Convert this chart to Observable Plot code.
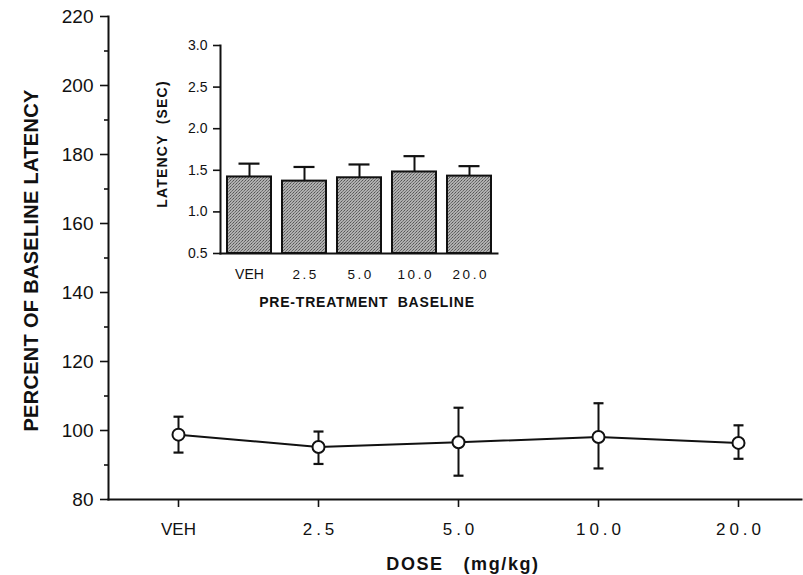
<!DOCTYPE html>
<html>
<head>
<meta charset="utf-8">
<script src="https://cdn.jsdelivr.net/npm/d3@7"></script>
<script src="https://cdn.jsdelivr.net/npm/@observablehq/plot@0.6"></script>
<style>
  html, body { margin: 0; padding: 0; background: #fff; }
  #wrap { position: relative; width: 803px; height: 575px; font-family: "Liberation Sans", Arial, sans-serif; }
  #wrap svg { position: absolute; overflow: visible; }
  #wrap svg text { white-space: pre; fill: #111; }
</style>
</head>
<body>
<div id="wrap"></div>
<script>
// ---- data ----
const doses = ["VEH", "2.5", "5.0", "10.0", "20.0"];
const pctMean = [98.8, 95.2, 96.6, 98.1, 96.4];
const pctHigh = [104.0, 99.7, 106.6, 107.9, 101.5];
const pctLow = [93.6, 90.3, 86.9, 89.0, 91.8];
const latMean = [1.42, 1.37, 1.41, 1.48, 1.43];
const latHigh = [1.58, 1.54, 1.57, 1.67, 1.55];
const yTicks = [80, 100, 120, 140, 160, 180, 200, 220];
const yMinorTicks = [90, 110, 130, 150, 170, 190, 210];
const insetTicks = [0.5, 1.0, 1.5, 2.0, 2.5, 3.0];
const yTitle = "PERCENT OF BASELINE LATENCY";
const xTitle = "DOSE   (mg/kg)";
const insetYTitle = "LATENCY  (SEC)";
const insetXTitle = "PRE-TREATMENT  BASELINE";

const main = doses.map((d, i) => ({dose: d, mean: pctMean[i], hi: pctHigh[i], lo: pctLow[i]}));
const inset = doses.map((d, i) => ({dose: d, mean: latMean[i], hi: latHigh[i]}));
const insetBase = insetTicks[0];

const capSymbol = {
  draw(ctx, size) {
    const w = Math.sqrt(size / Math.PI);
    ctx.moveTo(-w, 0);
    ctx.lineTo(w, 0);
  }
};

const font = "Liberation Sans, Arial, sans-serif";

const mainPlot = Plot.plot({
  width: 803,
  height: 575,
  marginLeft: 108,
  marginRight: 2,
  marginTop: 16,
  marginBottom: 76,
  style: {fontFamily: font, background: "transparent", color: "#111"},
  x: {type: "point", domain: doses, range: [177, 739], padding: 0, axis: null, label: null},
  y: {domain: [80, 220], axis: null, label: null},
  marks: [
    Plot.axisY(yTicks, {tickSize: 8, tickPadding: 7, fontSize: 19, strokeWidth: 1.6, label: null}),
    Plot.axisY(yMinorTicks, {tickSize: 4, tickFormat: () => "", strokeWidth: 1.6, label: null}),
    Plot.axisX(doses, {tickSize: 8, tickFormat: () => "", strokeWidth: 1.6, label: null}),
    Plot.frame({anchor: "left", strokeWidth: 2}),
    Plot.frame({anchor: "bottom", strokeWidth: 2}),
    Plot.text(doses.filter(d => d === "VEH"), {x: d => d, frameAnchor: "bottom", lineAnchor: "middle", dy: 30, fontSize: 17}),
    Plot.text(doses.filter(d => d !== "VEH"), {x: d => d, frameAnchor: "bottom", lineAnchor: "middle", dy: 30, dx: 2, fontSize: 17}),
    Plot.text([xTitle], {frameAnchor: "bottom", lineAnchor: "middle", textAnchor: "middle", dy: 65, dx: 8, fontSize: 18, fontWeight: "bold"}),
    Plot.text([yTitle], {frameAnchor: "left", textAnchor: "middle", lineAnchor: "middle", dx: -77, dy: 2.5, rotate: -90, fontSize: 20, fontWeight: "bold"}),
    Plot.line(main, {x: "dose", y: "mean", stroke: "#111", strokeWidth: 2}),
    Plot.ruleX(main, {x: "dose", y1: "lo", y2: "hi", stroke: "#111", strokeWidth: 2}),
    Plot.dot(main, {x: "dose", y: "hi", r: 5, symbol: capSymbol, stroke: "#111", strokeWidth: 2.2, fill: "none"}),
    Plot.dot(main, {x: "dose", y: "lo", r: 5, symbol: capSymbol, stroke: "#111", strokeWidth: 2.2, fill: "none"}),
    Plot.dot(main, {x: "dose", y: "mean", r: 6, stroke: "#111", strokeWidth: 2, fill: "white"})
  ]
});
mainPlot.style.left = "0px";
mainPlot.style.top = "0px";

const insetPlot = Plot.plot({
  width: 370,
  height: 290,
  marginLeft: 80,
  marginRight: 13,
  marginTop: 15,
  marginBottom: 67,
  style: {fontFamily: font, background: "transparent", color: "#111"},
  x: {type: "band", domain: doses, paddingInner: 0.2, paddingOuter: 0.1, axis: null, label: null},
  y: {domain: [insetTicks[0], insetTicks[insetTicks.length - 1]], axis: null, label: null},
  marks: [
    Plot.axisY(insetTicks, {tickSize: 7, tickPadding: 6, fontSize: 14, tickFormat: d3.format(".1f"), strokeWidth: 1.6, label: null}),
    Plot.ruleX(inset, {x: "dose", y1: "mean", y2: "hi", stroke: "#111", strokeWidth: 2}),
    Plot.tickY(inset, {x: "dose", y: "hi", stroke: "#111", strokeWidth: 2.2, insetLeft: 11.5, insetRight: 11.5}),
    Plot.barY(inset, {x: "dose", y1: insetBase, y2: "mean", fill: "url(#stipple)", stroke: "#111", strokeWidth: 2}),
    Plot.frame({anchor: "left", strokeWidth: 2}),
    Plot.frame({anchor: "bottom", strokeWidth: 2}),
    Plot.text(doses.filter(d => d === "VEH"), {x: d => d, frameAnchor: "bottom", lineAnchor: "middle", dy: 21, fontSize: 14}),
    Plot.text(doses.filter(d => d !== "VEH"), {x: d => d, frameAnchor: "bottom", lineAnchor: "middle", dy: 21, dx: 1.25, fontSize: 13.5}),
    Plot.text([insetXTitle], {frameAnchor: "bottom", lineAnchor: "middle", textAnchor: "middle", dy: 49, dx: 8, fontSize: 14, fontWeight: "bold"}),
    Plot.text([insetYTitle], {frameAnchor: "left", textAnchor: "middle", lineAnchor: "middle", dx: -58, dy: -5.5, rotate: -90, fontSize: 14, fontWeight: "bold"})
  ]
});
insetPlot.style.left = "140px";
insetPlot.style.top = "30px";

// letter spacing for the text marks (not the axis tick labels)
function spaceTexts(svg, rules) {
  d3.select(svg).selectAll('g[aria-label="text"] text').each(function () {
    const t = this.textContent;
    for (const [test, ls] of rules) {
      if (test(t)) { this.style.letterSpacing = ls; break; }
    }
  });
}
spaceTexts(mainPlot, [
  [t => t === xTitle, "1.6px"],
  [t => t === yTitle, "0.3px"],
  [t => doses.includes(t) && t !== "VEH", "4px"]
]);
spaceTexts(insetPlot, [
  [t => t === insetXTitle, "0.8px"],
  [t => t === insetYTitle, "1.2px"],
  [t => doses.includes(t) && t !== "VEH", "2.5px"]
]);

// stipple pattern for the inset bars
const defs = d3.select(insetPlot).insert("defs", ":first-child");
const pat = defs.append("pattern").attr("id", "stipple").attr("patternUnits", "userSpaceOnUse").attr("width", 3).attr("height", 3);
pat.append("rect").attr("width", 3).attr("height", 3).attr("fill", "#b0b0b0");
pat.append("rect").attr("x", 0).attr("y", 0).attr("width", 1).attr("height", 1).attr("fill", "#555");
pat.append("rect").attr("x", 2).attr("y", 1).attr("width", 1).attr("height", 1).attr("fill", "#6a6a6a");
pat.append("rect").attr("x", 1).attr("y", 2).attr("width", 1).attr("height", 1).attr("fill", "#7a7a7a");

const wrap = document.getElementById("wrap");
wrap.appendChild(mainPlot);
wrap.appendChild(insetPlot);
</script>
</body>
</html>
